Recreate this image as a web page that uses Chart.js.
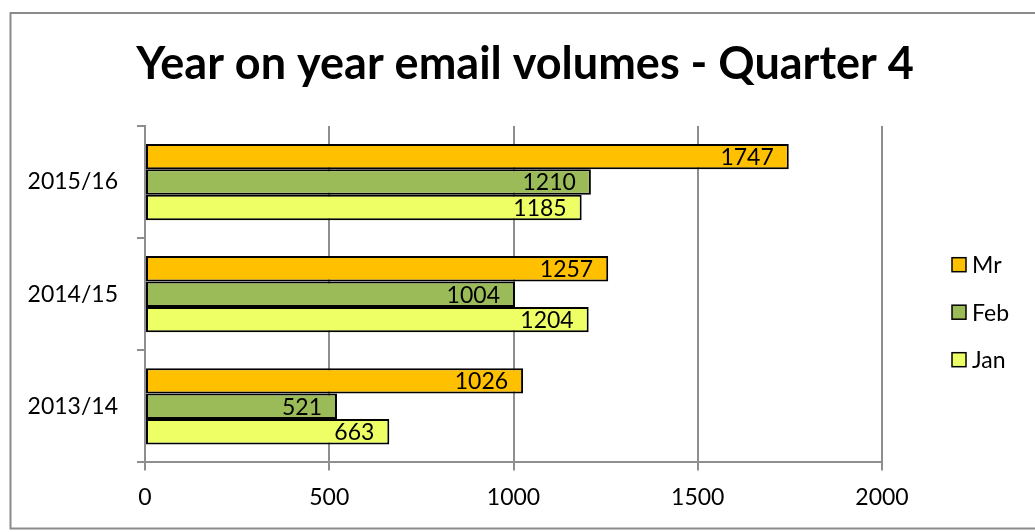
<!DOCTYPE html>
<html>
<head>
<meta charset="utf-8">
<script src="https://cdn.jsdelivr.net/npm/chart.js@4/dist/chart.umd.min.js"></script>
<style>
  html, body { margin: 0; padding: 0; background: #ffffff; }
  canvas { display: block; }
</style>
</head>
<body>
<canvas id="chart" width="1035" height="532"></canvas>
<script>
// Chart text and values
const titleText = 'Year on year email volumes - Quarter 4';
const years = ['2015/16', '2014/15', '2013/14'];
const seriesNames = ['Mr', 'Feb', 'Jan'];
const mrValues = [1747, 1257, 1026];
const febValues = [1210, 1004, 521];
const janValues = [1185, 1204, 663];
const xTicks = [0, 500, 1000, 1500, 2000];

// Styling
const seriesColors = ['#FFC000', '#9BBB59', '#EEFF66'];
const fontFamily = 'Lato, "Open Sans", sans-serif';
const gridColor = '#8E8E8E';
const labelSize = 23;
const titleSize = 45;

// White background and grey frame around the whole chart
const framePlugin = {
  id: 'frame',
  beforeDraw(chart) {
    const ctx = chart.ctx;
    ctx.save();
    ctx.fillStyle = '#ffffff';
    ctx.fillRect(0, 0, chart.width, chart.height);
    ctx.strokeStyle = '#8A8A8A';
    ctx.lineWidth = 2;
    ctx.strokeRect(10.5, 13, 1040, 515.5);
    ctx.restore();
  }
};

// Title centred across the frame
const titlePlugin = {
  id: 'frameTitle',
  afterDraw(chart) {
    const ctx = chart.ctx;
    ctx.save();
    ctx.font = 'bold ' + titleSize + 'px ' + fontFamily;
    ctx.fillStyle = '#000000';
    ctx.textAlign = 'center';
    ctx.textBaseline = 'alphabetic';
    ctx.fillText(titleText, 525, 79);
    ctx.restore();
  }
};

// Value written inside the end of each bar
const barValuePlugin = {
  id: 'barValues',
  afterDatasetsDraw(chart) {
    const ctx = chart.ctx;
    ctx.save();
    ctx.font = labelSize + 'px ' + fontFamily;
    ctx.fillStyle = '#000000';
    ctx.textAlign = 'right';
    ctx.textBaseline = 'middle';
    chart.data.datasets.forEach((ds, di) => {
      const meta = chart.getDatasetMeta(di);
      meta.data.forEach((bar, i) => {
        ctx.fillText(String(ds.data[i]), bar.x - 15, bar.y + 1);
      });
    });
    ctx.restore();
  }
};

// Legend to the right of the plot area
const sideLegendPlugin = {
  id: 'sideLegend',
  afterDraw(chart) {
    const ctx = chart.ctx;
    const area = chart.chartArea;
    const x = area.right + 70;
    const midY = (area.top + area.bottom) / 2 + 18;
    const step = 47.5;
    const n = chart.data.datasets.length;
    ctx.save();
    ctx.font = labelSize + 'px ' + fontFamily;
    ctx.textAlign = 'left';
    ctx.textBaseline = 'middle';
    chart.data.datasets.forEach((ds, i) => {
      const y = midY + (i - (n - 1) / 2) * step;
      ctx.fillStyle = ds.backgroundColor;
      ctx.fillRect(x, y - 7, 14, 14);
      ctx.strokeStyle = '#000000';
      ctx.lineWidth = 1.5;
      ctx.strokeRect(x, y - 7, 14, 14);
      ctx.fillStyle = '#000000';
      ctx.fillText(ds.label, x + 20, y + 1);
    });
    ctx.restore();
  }
};

function draw() {
  const seriesValues = [mrValues, febValues, janValues];
  const datasets = seriesNames.map((name, i) => ({
    label: name,
    data: seriesValues[i],
    backgroundColor: seriesColors[i],
    borderColor: '#000000',
    borderWidth: 2,
    borderSkipped: false,
    categoryPercentage: 0.68,
    barPercentage: 1.0
  }));

  new Chart(document.getElementById('chart'), {
    type: 'bar',
    data: { labels: years, datasets: datasets },
    options: {
      indexAxis: 'y',
      responsive: false,
      animation: false,
      devicePixelRatio: 1,
      layout: { padding: { top: 126, left: 0, right: 153, bottom: 8 } },
      plugins: {
        legend: { display: false },
        title: { display: false },
        tooltip: { enabled: false }
      },
      scales: {
        x: {
          type: 'linear',
          min: xTicks[0],
          max: xTicks[xTicks.length - 1],
          afterBuildTicks(scale) {
            scale.ticks = xTicks.map(v => ({ value: v }));
          },
          grid: {
            color: gridColor,
            lineWidth: 2,
            drawTicks: true,
            tickLength: 8,
            tickColor: gridColor
          },
          border: { color: gridColor, width: 2 },
          ticks: {
            color: '#000000',
            padding: 13,
            font: { family: fontFamily, size: labelSize },
            callback: (v) => String(v)
          }
        },
        y: {
          afterFit(scale) { scale.width = 145; },
          grid: {
            color: gridColor,
            lineWidth: 2,
            drawOnChartArea: false,
            drawTicks: true,
            tickLength: 8,
            offset: true
          },
          border: { color: gridColor, width: 2 },
          ticks: {
            color: '#000000',
            padding: 19,
            font: { family: fontFamily, size: labelSize }
          }
        }
      }
    },
    plugins: [framePlugin, titlePlugin, barValuePlugin, sideLegendPlugin]
  });
}

if (document.fonts && document.fonts.load) {
  Promise.all([
    document.fonts.load(labelSize + 'px Lato'),
    document.fonts.load('bold ' + titleSize + 'px Lato')
  ]).then(draw, draw);
} else {
  draw();
}
</script>
</body>
</html>
